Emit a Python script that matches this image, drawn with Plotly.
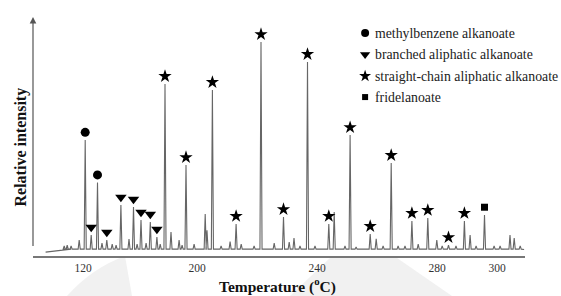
import plotly.graph_objects as go

# ---------------- data (retention temperature, relative intensity) ----------------
methyl_T = [162.7, 166.8]
methyl_I = [54.2, 34.3]

branched_T = [164.7, 169.9, 174.6, 178.8, 181.3, 184.4, 186.6]
branched_I = [9.8, 7.5, 23.8, 22.9, 16.8, 15.9, 8.9]

straight_T = [189.3, 196.3, 205.1, 213.0, 221.3, 228.8, 236.8, 243.9, 251.0,
              257.7, 264.7, 271.6, 276.9, 283.8, 289.1]
straight_I = [80.4, 42.5, 77.6, 15.0, 100.0, 18.2, 90.7, 15.0, 56.5,
              10.3, 43.5, 16.4, 17.8, 5.1, 16.4]

fridel_T = [295.8]
fridel_I = [19.2]

other_T = [155.7, 156.7, 158.0, 160.7, 168.3, 171.7, 173.0, 177.3, 180.0, 183.0,
           187.7, 191.3, 194.0, 195.0, 199.0, 202.7, 203.3, 208.0, 211.0, 214.7,
           219.0, 225.7, 230.7, 232.3, 234.3, 239.3, 245.7, 249.3, 253.0, 259.7,
           262.0, 267.0, 269.3, 273.7, 279.9, 281.7, 286.3, 291.0, 293.0, 299.0,
           301.0, 304.3, 305.7, 307.7]
other_I = [4.7, 5.1, 4.7, 7.5, 6.0, 5.6, 5.1, 7.9, 5.6, 6.0,
           5.6, 11.2, 7.5, 5.1, 5.6, 19.6, 12.0, 4.7, 6.7, 5.6,
           4.7, 6.0, 6.5, 8.4, 4.7, 4.7, 20.6, 4.7, 4.2, 8.0,
           4.7, 4.7, 4.7, 5.6, 7.5, 4.7, 4.7, 9.8, 4.7, 4.7,
           4.7, 9.8, 8.4, 4.7]

baseline_T = [149.5, 158.0, 309.0]
baseline_I = [1.8, 3.2, 3.0]

tick_vals = [162, 200, 240, 280, 300]
tick_text = ["120", "200", "240", "280", "300"]

legend_names = ["methylbenzene alkanoate", "branched aliphatic alkanoate",
                "straight-chain aliphatic alkanoate", "fridelanoate"]

# ---------------- build chromatogram trace from peaks ----------------
FONT = "Liberation Serif, Times New Roman, serif"
BASE = 3.2
HALF = 0.35

peaks = sorted(zip(methyl_T + branched_T + straight_T + fridel_T + other_T,
                   methyl_I + branched_I + straight_I + fridel_I + other_I))
cx = [baseline_T[0], baseline_T[1]]
cy = [baseline_I[0], baseline_I[1]]
for t, h in peaks:
    cx += [t - HALF, t, t + HALF]
    cy += [BASE, h, BASE]
cx.append(baseline_T[2])
cy.append(baseline_I[2])

fig = go.Figure()
fig.add_trace(go.Scatter(x=cx, y=cy, mode="lines",
                         line=dict(color="#666666", width=1.1),
                         showlegend=False, hoverinfo="skip"))

OFF = 3.6
groups = [
    (methyl_T, methyl_I, "circle", 9),
    (branched_T, branched_I, "triangle-down", 10),
    (straight_T, straight_I, "star", 10),
    (fridel_T, fridel_I, "square", 7),
]
for (ts, hs, sym, sz), name in zip(groups, legend_names):
    fig.add_trace(go.Scatter(x=ts, y=[h + OFF for h in hs], mode="markers",
                             marker=dict(symbol=sym, size=sz, color="black",
                                         line=dict(width=0)),
                             name=name, showlegend=False, hoverinfo="skip"))

# manual legend on an overlay axis (0..1 in plot area)
leg_y = [0.933, 0.843, 0.753, 0.665]
leg_sizes = [8, 9, 9, 6]
for (ts, hs, sym, sz), ly, lsz, name in zip(groups, leg_y, leg_sizes, legend_names):
    fig.add_trace(go.Scatter(x=[0.675], y=[ly], xaxis="x2", yaxis="y2",
                             mode="markers",
                             marker=dict(symbol=sym, size=lsz, color="black",
                                         line=dict(width=0)),
                             showlegend=False, hoverinfo="skip"))
    fig.add_annotation(x=0.692, y=ly, xref="paper", yref="paper",
                       text=name, showarrow=False, xanchor="left",
                       yanchor="middle",
                       font=dict(family=FONT, size=13.8, color="#222222"))

# axis titles
fig.add_annotation(x=0.497, y=-0.125, xref="paper", yref="paper",
                   text="<b>Temperature (<sup>o</sup>C)</b>", showarrow=False,
                   xanchor="center", yanchor="middle",
                   font=dict(family=FONT, size=15.5, color="#111111"))
fig.add_annotation(x=-0.025, y=0.457, xref="paper", yref="paper",
                   text="<b>Relative intensity</b>", showarrow=False,
                   textangle=-90, xanchor="center", yanchor="middle",
                   font=dict(family=FONT, size=16, color="#111111"))

# y-axis arrow
fig.add_annotation(x=0, y=1, xref="paper", yref="paper",
                   ax=0, ay=239, axref="pixel", ayref="pixel",
                   showarrow=True, arrowhead=2, arrowsize=1.1,
                   arrowwidth=1.2, arrowcolor="#555555", text=" ")

# faint background watermark shapes
def pp(px, py):
    return (px - 33) / 492.0, (256 - py) / 239.0

a = pp(67, 296); b = pp(92, 268); c = pp(125, 256); d = pp(132, 296)
fig.add_shape(type="path", xref="paper", yref="paper", layer="below",
              path=f"M {a[0]},{a[1]} Q {b[0]},{b[1]} {c[0]},{c[1]} L {d[0]},{d[1]} Z",
              fillcolor="#f1f1f1", line=dict(width=0))
e = pp(330, 258); f = pp(397, 258); g = pp(452, 296); h_ = pp(290, 296)
fig.add_shape(type="path", xref="paper", yref="paper", layer="below",
              path=f"M {e[0]},{e[1]} L {f[0]},{f[1]} L {g[0]},{g[1]} L {h_[0]},{h_[1]} Z",
              fillcolor="#f1f1f1", line=dict(width=0))

fig.update_layout(
    width=561, height=296,
    margin=dict(l=33, r=36, t=17, b=40),
    paper_bgcolor="white", plot_bgcolor="rgba(0,0,0,0)",
    showlegend=False,
    xaxis=dict(range=[145.3, 309.3], showgrid=False, zeroline=False,
               showline=True, linecolor="#777777", linewidth=2,
               tickvals=tick_vals, ticktext=tick_text, ticks="",
               tickfont=dict(family=FONT, size=11.5, color="#333333"),
               fixedrange=True),
    yaxis=dict(range=[0, 111.7], showgrid=False, zeroline=False,
               showline=False, showticklabels=False, ticks="",
               fixedrange=True),
    xaxis2=dict(range=[0, 1], overlaying="x", visible=False, fixedrange=True),
    yaxis2=dict(range=[0, 1], overlaying="y", visible=False, fixedrange=True),
)

fig.write_html("out.html", config={"displayModeBar": False},
               post_script="document.body.style.margin='0';")
